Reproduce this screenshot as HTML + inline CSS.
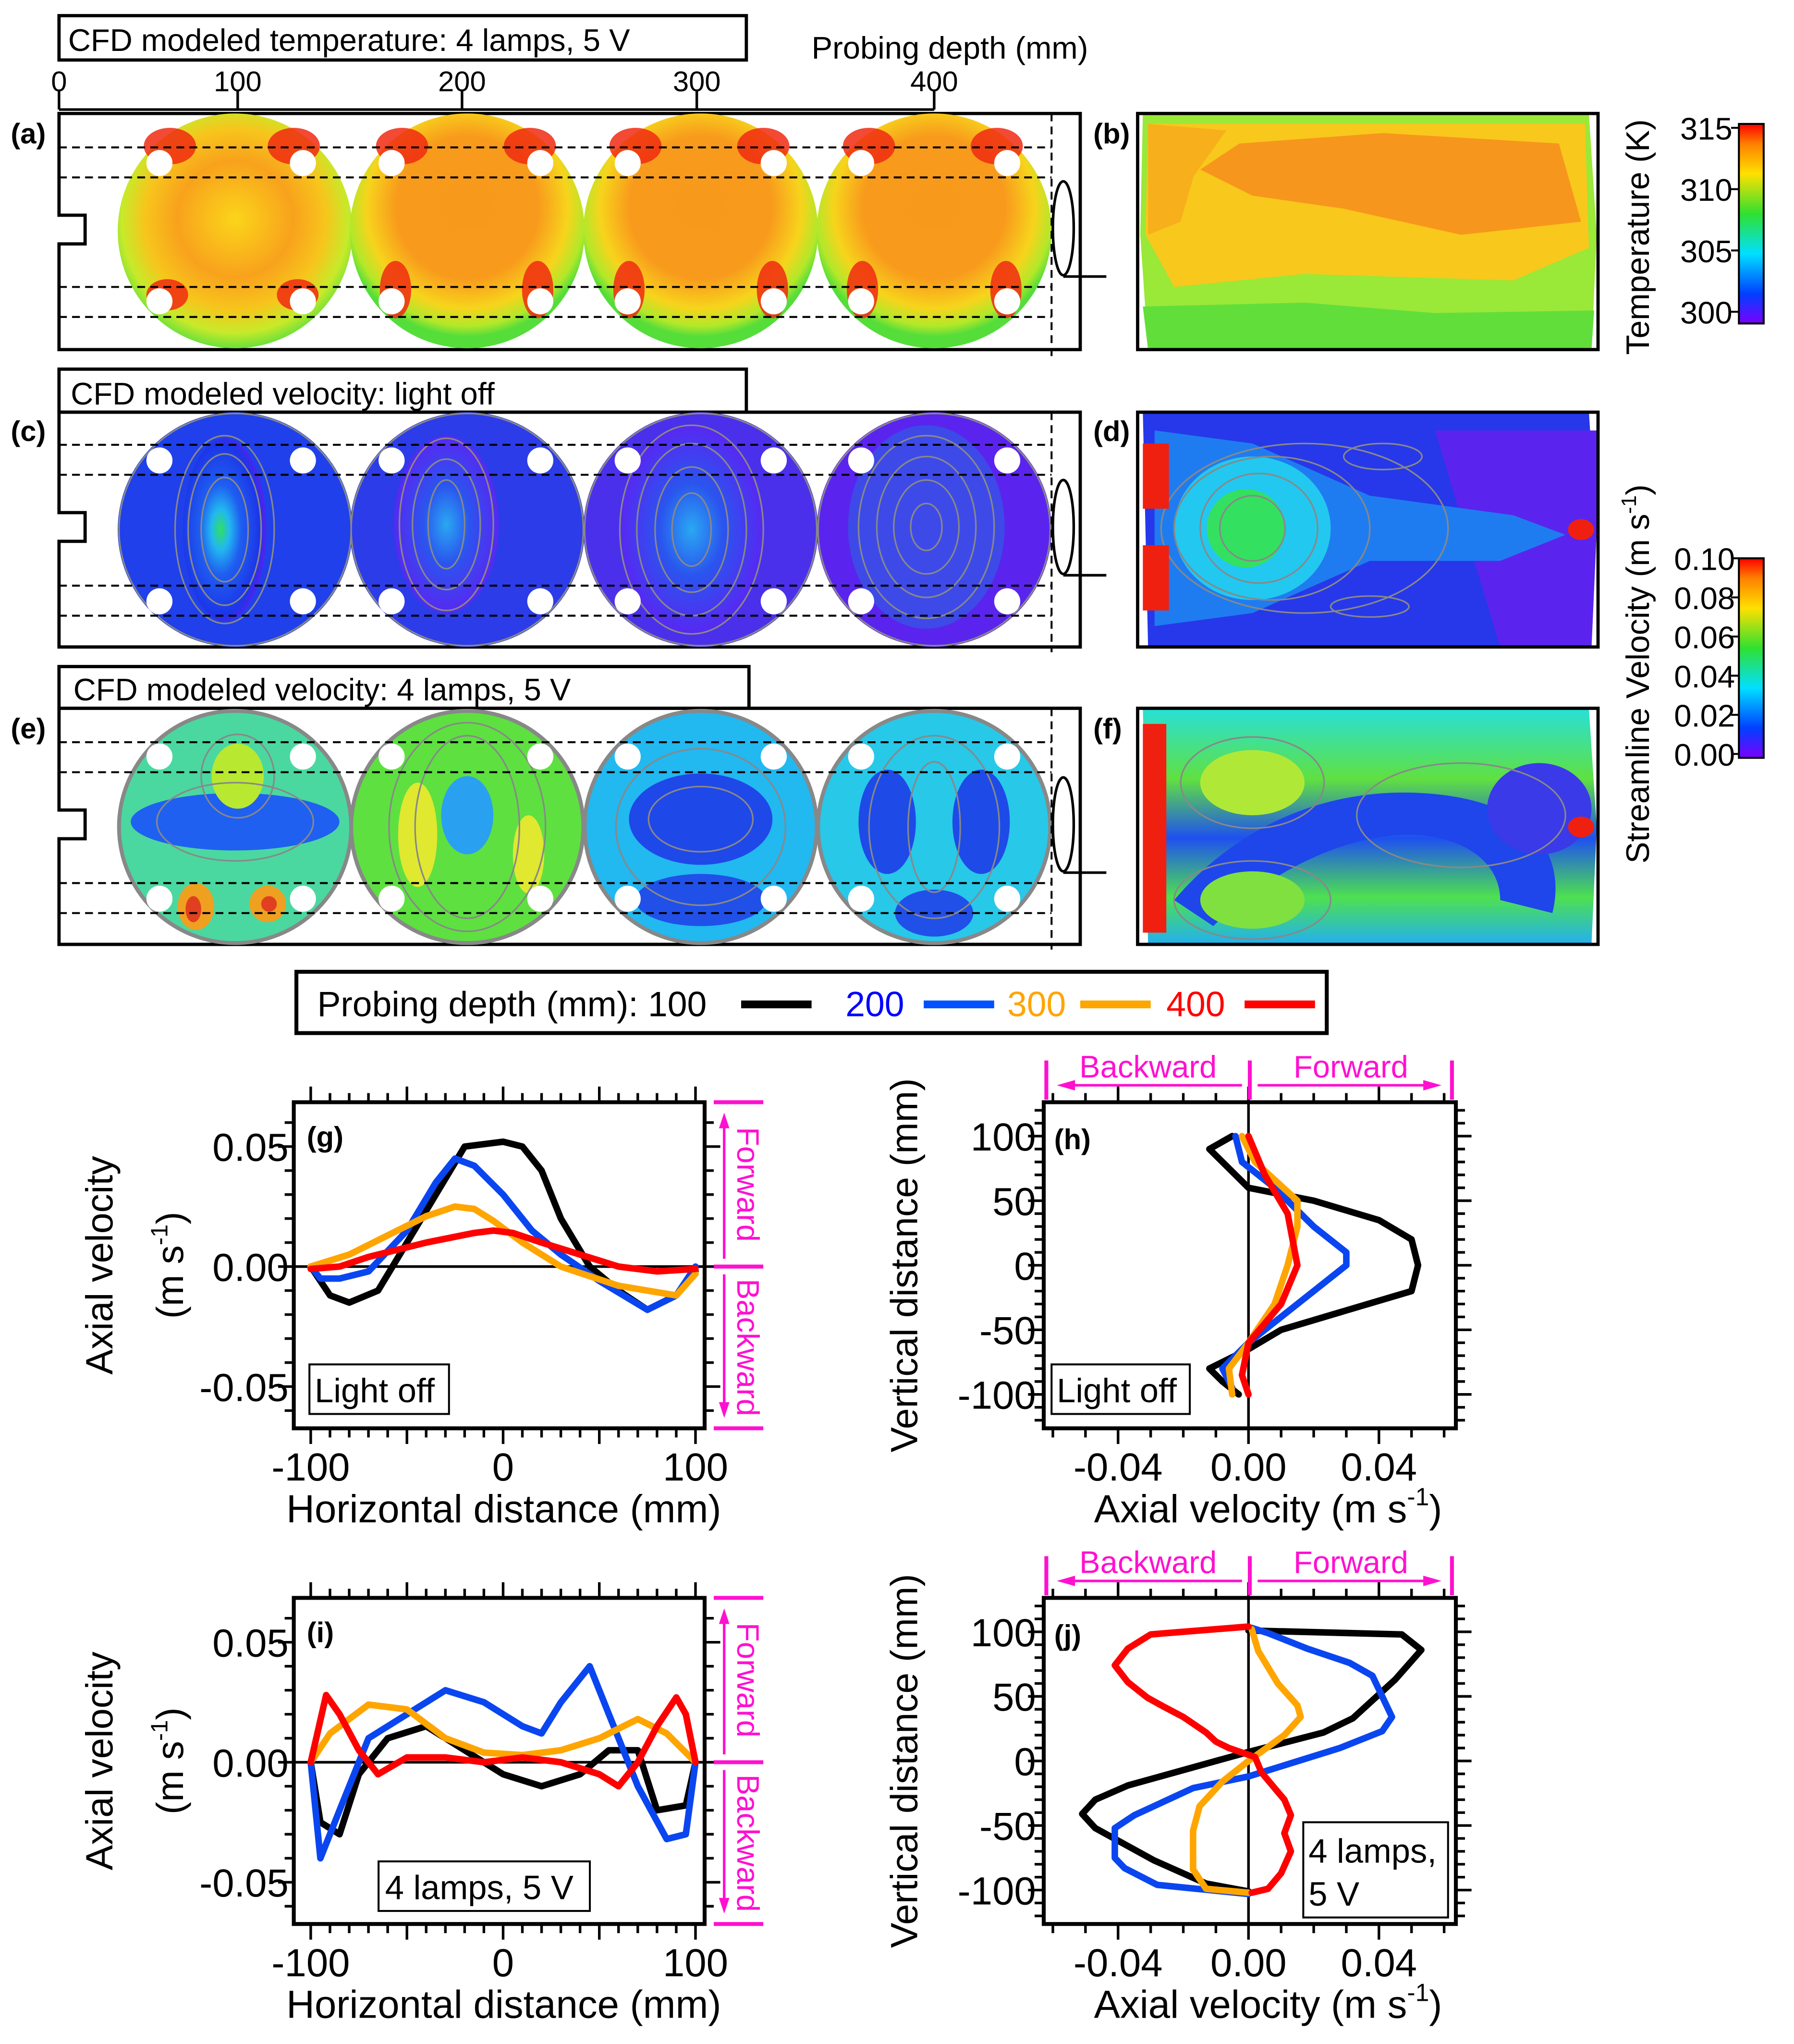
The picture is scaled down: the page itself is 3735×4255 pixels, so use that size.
<!DOCTYPE html>
<html><head><meta charset="utf-8"><style>
html,body{margin:0;padding:0;background:#fff;}
svg{display:block;font-family:"Liberation Sans",Arial,sans-serif;}
text{font-family:"Liberation Sans",Arial,sans-serif;fill:#000;}
text.nar{font-family:"Liberation Sans Narrow","Liberation Sans",Arial,sans-serif;}
</style></head><body>
<svg id="fig" width="3735" height="4255" viewBox="0 0 1375 1567" font-family="Liberation Sans, sans-serif" xmlns="http://www.w3.org/2000/svg">
<defs>
<linearGradient id="tempbar" x1="0" y1="1" x2="0" y2="0">
<stop offset="0" stop-color="#7a00ff"/><stop offset="0.15" stop-color="#0040ff"/><stop offset="0.35" stop-color="#00e0ff"/><stop offset="0.55" stop-color="#30e030"/><stop offset="0.75" stop-color="#ffe000"/><stop offset="0.9" stop-color="#ff8000"/><stop offset="1" stop-color="#ff0000"/>
</linearGradient>
<radialGradient id="tcirc" cx="0.5" cy="0.45" r="0.55">
<stop offset="0" stop-color="#fbd51a"/><stop offset="0.45" stop-color="#f8a21c"/><stop offset="0.7" stop-color="#f7c51c"/><stop offset="0.88" stop-color="#c7ea2a"/><stop offset="1" stop-color="#6be03a"/>
</radialGradient>
<radialGradient id="tcirc2" cx="0.5" cy="0.4" r="0.55">
<stop offset="0" stop-color="#f79a1c"/><stop offset="0.55" stop-color="#f89a1c"/><stop offset="0.78" stop-color="#f7d41c"/><stop offset="0.92" stop-color="#b2e82a"/><stop offset="1" stop-color="#55dd3a"/>
</radialGradient>
<radialGradient id="vc1" cx="0.45" cy="0.5" r="0.55">
<stop offset="0" stop-color="#2ee060"/><stop offset="0.2" stop-color="#22b8f0"/><stop offset="0.45" stop-color="#1f5ef0"/><stop offset="0.85" stop-color="#1c36e8"/><stop offset="1" stop-color="#5a1ff0"/>
</radialGradient>
<radialGradient id="vc2" cx="0.5" cy="0.5" r="0.55">
<stop offset="0" stop-color="#2aa8f2"/><stop offset="0.4" stop-color="#2a55ee"/><stop offset="1" stop-color="#6020f2"/>
</radialGradient>
<linearGradient id="fgrad" x1="0" y1="0" x2="0" y2="1">
<stop offset="0" stop-color="#28e0d8"/><stop offset="0.3" stop-color="#60e040"/><stop offset="0.55" stop-color="#1e50f0"/><stop offset="0.8" stop-color="#4ee050"/><stop offset="1" stop-color="#22b0f0"/>
</linearGradient>
</defs>

<!-- ===== (a) ===== -->
<g>
<rect x="45" y="12" width="527" height="34" fill="#fff" stroke="#000" stroke-width="2.5"/>
<text x="52" y="39" font-size="24" class="nar">CFD modeled temperature: 4 lamps, 5 V</text>
<text x="622" y="45" font-size="24" class="nar">Probing depth (mm)</text>
<line x1="45" y1="84" x2="716" y2="84" stroke="#000" stroke-width="2"/>
<g stroke="#000" stroke-width="2">
<line x1="45" y1="70" x2="45" y2="84"/><line x1="182" y1="70" x2="182" y2="84"/><line x1="354" y1="70" x2="354" y2="84"/><line x1="534" y1="70" x2="534" y2="84"/><line x1="716" y1="70" x2="716" y2="84"/>
</g>
<g font-size="22" text-anchor="middle">
<text class="nar" x="45" y="70">0</text><text class="nar" x="182" y="70">100</text><text class="nar" x="354" y="70">200</text><text class="nar" x="534" y="70">300</text><text class="nar" x="716" y="70">400</text>
</g>
<text x="8" y="110" font-size="22" font-weight="bold">(a)</text>
<path d="M45,87 H828 V268 H45 V187 H65 V165 H45 Z" fill="#fff" stroke="#000" stroke-width="2.5"/>
<g>
<circle cx="180" cy="177" r="90" fill="url(#tcirc)"/>
<circle cx="358" cy="177" r="90" fill="url(#tcirc2)"/>
<circle cx="537" cy="177" r="90" fill="url(#tcirc2)"/>
<circle cx="716" cy="177" r="90" fill="url(#tcirc2)"/>
</g>
<g fill="#f02a10" opacity="0.85">
<ellipse cx="130" cy="112" rx="20" ry="14"/><ellipse cx="225" cy="112" rx="20" ry="14"/><ellipse cx="128" cy="226" rx="16" ry="12"/><ellipse cx="228" cy="226" rx="16" ry="12"/>
<ellipse cx="308" cy="112" rx="20" ry="14"/><ellipse cx="406" cy="112" rx="20" ry="14"/><ellipse cx="303" cy="222" rx="12" ry="22"/><ellipse cx="412" cy="222" rx="12" ry="22"/>
<ellipse cx="487" cy="112" rx="20" ry="14"/><ellipse cx="585" cy="112" rx="20" ry="14"/><ellipse cx="482" cy="222" rx="12" ry="22"/><ellipse cx="592" cy="222" rx="12" ry="22"/>
<ellipse cx="666" cy="112" rx="20" ry="14"/><ellipse cx="764" cy="112" rx="20" ry="14"/><ellipse cx="661" cy="222" rx="12" ry="22"/><ellipse cx="771" cy="222" rx="12" ry="22"/>
</g>
<g fill="#fff">
<circle cx="122" cy="125" r="10"/><circle cx="232" cy="125" r="10"/><circle cx="122" cy="231" r="10"/><circle cx="232" cy="231" r="10"/>
<circle cx="300" cy="125" r="10"/><circle cx="414" cy="125" r="10"/><circle cx="300" cy="231" r="10"/><circle cx="414" cy="231" r="10"/>
<circle cx="481" cy="125" r="10"/><circle cx="593" cy="125" r="10"/><circle cx="481" cy="231" r="10"/><circle cx="593" cy="231" r="10"/>
<circle cx="660" cy="125" r="10"/><circle cx="772" cy="125" r="10"/><circle cx="660" cy="231" r="10"/><circle cx="772" cy="231" r="10"/>
</g>
<g stroke="#000" stroke-width="1.5" stroke-dasharray="6,4">
<line x1="45" y1="113" x2="806" y2="113"/><line x1="45" y1="136" x2="806" y2="136"/><line x1="45" y1="220" x2="806" y2="220"/><line x1="45" y1="243" x2="806" y2="243"/><line x1="806" y1="87" x2="806" y2="275"/>
</g>
<ellipse cx="815" cy="175" rx="8" ry="36" fill="none" stroke="#000" stroke-width="2"/>
<line x1="815" y1="212" x2="848" y2="212" stroke="#000" stroke-width="2"/>
</g>

<!-- ===== (b) ===== -->
<g>
<text x="838" y="110" font-size="22" font-weight="bold">(b)</text>
<path d="M876,87 H1218 L1224,180 L1220,268 H880 L874,180 Z" fill="#9ae838"/>
<path d="M880,95 H1215 L1218,190 L1160,215 L1000,210 L900,220 L878,180 Z" fill="#f8c81c"/>
<path d="M950,110 L1060,102 L1195,110 L1212,170 L1120,180 L1030,160 L960,150 L920,130 Z" fill="#f7961c"/>
<path d="M880,95 L940,100 L915,135 L905,170 L880,180 Z" fill="#f7b01c"/>
<path d="M876,235 L1000,232 L1100,240 L1222,238 L1220,268 H880 Z" fill="#62de3a"/>
<rect x="872" y="87" width="353" height="181" fill="none" stroke="#000" stroke-width="2.5"/>
</g>

<!-- temperature colorbar -->
<g>
<rect x="1333" y="95" width="19" height="153" fill="url(#tempbar)" stroke="#000" stroke-width="1.5"/>
<g stroke="#000" stroke-width="1.5"><line x1="1327" y1="98" x2="1333" y2="98"/><line x1="1327" y1="145" x2="1333" y2="145"/><line x1="1327" y1="192" x2="1333" y2="192"/><line x1="1327" y1="239" x2="1333" y2="239"/></g>
<g font-size="24" text-anchor="end">
<text class="nar" x="1328" y="107">315</text><text class="nar" x="1328" y="154">310</text><text class="nar" x="1328" y="201">305</text><text class="nar" x="1328" y="248">300</text>
</g>
<text transform="translate(1264,272) rotate(-90)" font-size="25">Temperature (K)</text>
</g>

<!-- ===== (c) ===== -->
<g>
<rect x="45" y="283" width="527" height="33" fill="#fff" stroke="#000" stroke-width="2.5"/>
<text x="54" y="310" font-size="24" class="nar">CFD modeled velocity: light off</text>
<text x="8" y="338" font-size="22" font-weight="bold">(c)</text>
<path d="M45,316 H828 V496 H45 V415 H65 V393 H45 Z" fill="#fff" stroke="#000" stroke-width="2.5"/>
<g>
<circle cx="180" cy="406" r="90" fill="#1f40ea"/><ellipse cx="172" cy="406" rx="32" ry="70" fill="url(#vc1)"/>
<circle cx="358" cy="406" r="90" fill="#2c3ce8"/><ellipse cx="342" cy="402" rx="40" ry="68" fill="url(#vc2)"/>
<circle cx="537" cy="406" r="90" fill="#4a30ea"/><ellipse cx="530" cy="406" rx="55" ry="80" fill="url(#vc2)"/>
<circle cx="716" cy="406" r="90" fill="#5a24ee"/><ellipse cx="710" cy="404" rx="60" ry="78" fill="#3d4ae8"/>
</g>
<g fill="none" stroke="#888" stroke-width="1.2">
<ellipse cx="172" cy="406" rx="18" ry="40"/><ellipse cx="172" cy="406" rx="28" ry="58"/><ellipse cx="172" cy="406" rx="38" ry="72"/>
<ellipse cx="342" cy="402" rx="14" ry="34"/><ellipse cx="342" cy="402" rx="26" ry="50"/><ellipse cx="342" cy="402" rx="36" ry="66"/>
<ellipse cx="530" cy="406" rx="15" ry="28"/><ellipse cx="530" cy="406" rx="28" ry="48"/><ellipse cx="530" cy="406" rx="42" ry="66"/><ellipse cx="530" cy="406" rx="55" ry="80"/>
<ellipse cx="710" cy="404" rx="12" ry="18"/><ellipse cx="710" cy="404" rx="25" ry="36"/><ellipse cx="710" cy="404" rx="38" ry="54"/><ellipse cx="710" cy="404" rx="52" ry="70"/>
<circle cx="180" cy="406" r="89"/><circle cx="358" cy="406" r="89"/><circle cx="537" cy="406" r="89"/><circle cx="716" cy="406" r="89"/>
</g>
<g fill="#fff">
<circle cx="122" cy="353" r="10"/><circle cx="232" cy="353" r="10"/><circle cx="122" cy="461" r="10"/><circle cx="232" cy="461" r="10"/>
<circle cx="300" cy="353" r="10"/><circle cx="414" cy="353" r="10"/><circle cx="300" cy="461" r="10"/><circle cx="414" cy="461" r="10"/>
<circle cx="481" cy="353" r="10"/><circle cx="593" cy="353" r="10"/><circle cx="481" cy="461" r="10"/><circle cx="593" cy="461" r="10"/>
<circle cx="660" cy="353" r="10"/><circle cx="772" cy="353" r="10"/><circle cx="660" cy="461" r="10"/><circle cx="772" cy="461" r="10"/>
</g>
<g stroke="#000" stroke-width="1.5" stroke-dasharray="6,4">
<line x1="45" y1="341" x2="806" y2="341"/><line x1="45" y1="364" x2="806" y2="364"/><line x1="45" y1="449" x2="806" y2="449"/><line x1="45" y1="472" x2="806" y2="472"/><line x1="806" y1="316" x2="806" y2="500"/>
</g>
<ellipse cx="815" cy="404" rx="8" ry="36" fill="none" stroke="#000" stroke-width="2"/>
<line x1="815" y1="441" x2="848" y2="441" stroke="#000" stroke-width="2"/>
</g>

<!-- ===== (d) ===== -->
<g>
<text x="838" y="338" font-size="22" font-weight="bold">(d)</text>
<path d="M876,316 H1218 L1224,406 L1220,496 H880 Z" fill="#2638ea"/>
<path d="M1100,330 L1225,330 L1224,406 L1220,496 H1150 Z" fill="#5a24ee"/>
<path d="M885,330 L960,340 L1050,380 L1160,395 L1200,410 L1150,430 L1050,430 L960,470 L885,480 Z" fill="#1f7cf0"/>
<ellipse cx="960" cy="405" rx="60" ry="55" fill="#22c8f0"/>
<ellipse cx="955" cy="405" rx="30" ry="30" fill="#34e060"/>
<g fill="none" stroke="#888" stroke-width="1.2">
<ellipse cx="960" cy="405" rx="25" ry="25"/><ellipse cx="965" cy="405" rx="45" ry="42"/><ellipse cx="975" cy="405" rx="75" ry="55"/><ellipse cx="1000" cy="405" rx="110" ry="65"/>
<ellipse cx="1060" cy="350" rx="30" ry="10"/><ellipse cx="1050" cy="465" rx="30" ry="8"/>
</g>
<rect x="876" y="340" width="20" height="50" fill="#f02010"/><rect x="876" y="418" width="20" height="50" fill="#f02010"/>
<ellipse cx="1212" cy="406" rx="10" ry="8" fill="#f02010"/>
<rect x="872" y="316" width="353" height="180" fill="none" stroke="#000" stroke-width="2.5"/>
</g>

<!-- ===== (e) ===== -->
<g>
<rect x="45" y="511" width="529" height="32" fill="#fff" stroke="#000" stroke-width="2.5"/>
<text x="56" y="537" font-size="24" class="nar">CFD modeled velocity: 4 lamps, 5 V</text>
<text x="8" y="566" font-size="22" font-weight="bold">(e)</text>
<path d="M45,543 H828 V724 H45 V643 H65 V621 H45 Z" fill="#fff" stroke="#000" stroke-width="2.5"/>
<g stroke="#888" stroke-width="3">
<circle cx="180" cy="634" r="89" fill="#4ad8a0"/>
<circle cx="358" cy="634" r="89" fill="#5ee040"/>
<circle cx="537" cy="634" r="89" fill="#22b8f0"/>
<circle cx="716" cy="634" r="89" fill="#28c8e8"/>
</g>
<g>
<ellipse cx="180" cy="630" rx="80" ry="22" fill="#1f60f0"/><ellipse cx="182" cy="595" rx="20" ry="25" fill="#b8e830"/>
<ellipse cx="150" cy="695" rx="14" ry="18" fill="#f0a020"/><ellipse cx="205" cy="693" rx="14" ry="14" fill="#f0a020"/>
<ellipse cx="148" cy="697" rx="6" ry="10" fill="#e04020"/><ellipse cx="206" cy="693" rx="6" ry="6" fill="#e04020"/>
<ellipse cx="320" cy="640" rx="15" ry="40" fill="#e0e830"/><ellipse cx="405" cy="655" rx="12" ry="30" fill="#e0e830"/><ellipse cx="358" cy="625" rx="20" ry="30" fill="#2aa0f0"/>
<ellipse cx="537" cy="628" rx="55" ry="35" fill="#1f48e8"/><ellipse cx="537" cy="690" rx="50" ry="20" fill="#2050e8"/>
<ellipse cx="680" cy="630" rx="22" ry="40" fill="#1e4ae8"/><ellipse cx="752" cy="630" rx="22" ry="40" fill="#1e4ae8"/><ellipse cx="716" cy="700" rx="30" ry="18" fill="#2050e8"/>
</g>
<g fill="none" stroke="#888" stroke-width="1.2">
<ellipse cx="180" cy="630" rx="60" ry="30"/><ellipse cx="182" cy="595" rx="28" ry="32"/><ellipse cx="358" cy="634" rx="40" ry="70"/><ellipse cx="358" cy="634" rx="60" ry="80"/>
<ellipse cx="537" cy="628" rx="40" ry="25"/><ellipse cx="537" cy="634" rx="65" ry="60"/><ellipse cx="716" cy="634" rx="50" ry="70"/><ellipse cx="716" cy="634" rx="20" ry="50"/>
</g>
<g fill="#fff">
<circle cx="122" cy="580" r="10"/><circle cx="232" cy="580" r="10"/><circle cx="122" cy="689" r="10"/><circle cx="232" cy="689" r="10"/>
<circle cx="300" cy="580" r="10"/><circle cx="414" cy="580" r="10"/><circle cx="300" cy="689" r="10"/><circle cx="414" cy="689" r="10"/>
<circle cx="481" cy="580" r="10"/><circle cx="593" cy="580" r="10"/><circle cx="481" cy="689" r="10"/><circle cx="593" cy="689" r="10"/>
<circle cx="660" cy="580" r="10"/><circle cx="772" cy="580" r="10"/><circle cx="660" cy="689" r="10"/><circle cx="772" cy="689" r="10"/>
</g>
<g stroke="#000" stroke-width="1.5" stroke-dasharray="6,4">
<line x1="45" y1="569" x2="806" y2="569"/><line x1="45" y1="592" x2="806" y2="592"/><line x1="45" y1="677" x2="806" y2="677"/><line x1="45" y1="700" x2="806" y2="700"/><line x1="806" y1="543" x2="806" y2="728"/>
</g>
<ellipse cx="815" cy="632" rx="8" ry="36" fill="none" stroke="#000" stroke-width="2"/>
<line x1="815" y1="669" x2="848" y2="669" stroke="#000" stroke-width="2"/>
</g>

<!-- ===== (f) ===== -->
<g>
<text x="838" y="566" font-size="22" font-weight="bold">(f)</text>
<path d="M876,543 H1218 L1224,634 L1220,724 H880 Z" fill="url(#fgrad)"/>
<path d="M900,690 C960,620 1040,600 1110,610 C1180,620 1200,660 1190,700 L1150,690 C1150,660 1120,640 1080,640 C1020,640 960,680 930,710 Z" fill="#1e46ea"/>
<ellipse cx="1180" cy="620" rx="40" ry="35" fill="#3a3ae8"/>
<ellipse cx="960" cy="600" rx="40" ry="25" fill="#b0e838"/><ellipse cx="960" cy="690" rx="40" ry="22" fill="#80e040"/>
<rect x="876" y="555" width="18" height="160" fill="#f02010"/>
<ellipse cx="1212" cy="634" rx="10" ry="8" fill="#f02010"/>
<g fill="none" stroke="#888" stroke-width="1.2">
<ellipse cx="960" cy="600" rx="55" ry="35"/><ellipse cx="960" cy="690" rx="60" ry="30"/><ellipse cx="1120" cy="625" rx="80" ry="40"/>
</g>
<rect x="872" y="543" width="353" height="181" fill="none" stroke="#000" stroke-width="2.5"/>
</g>

<!-- velocity colorbar -->
<g>
<rect x="1333" y="428" width="19" height="153" fill="url(#tempbar)" stroke="#000" stroke-width="1.5"/>
<g font-size="24" text-anchor="end">
<text class="nar" x="1330" y="437">0.10</text><text class="nar" x="1330" y="467">0.08</text><text class="nar" x="1330" y="497">0.06</text><text class="nar" x="1330" y="527">0.04</text><text class="nar" x="1330" y="557">0.02</text><text class="nar" x="1330" y="587">0.00</text>
</g>
<g stroke="#000" stroke-width="1.5"><line x1="1327" y1="428" x2="1333" y2="428"/><line x1="1327" y1="458" x2="1333" y2="458"/><line x1="1327" y1="488" x2="1333" y2="488"/><line x1="1327" y1="518" x2="1333" y2="518"/><line x1="1327" y1="548" x2="1333" y2="548"/><line x1="1327" y1="578" x2="1333" y2="578"/></g>
<text transform="translate(1264,662) rotate(-90)" font-size="25">Streamline Velocity (m s<tspan dy="-10" font-size="16">-1</tspan><tspan dy="10">)</tspan></text>
</g>

<!-- legend -->
<g>
<rect x="227" y="745" width="790" height="47" fill="#fff" stroke="#000" stroke-width="3"/>
<text x="243" y="779" font-size="27" class="nar">Probing depth (mm): 100</text>
<line x1="568" y1="770" x2="622" y2="770" stroke="#000" stroke-width="6"/>
<text x="648" y="779" font-size="27" class="nar" style="fill:#0000ff">200</text>
<line x1="708" y1="770" x2="762" y2="770" stroke="#0050ff" stroke-width="6"/>
<text x="772" y="779" font-size="27" class="nar" style="fill:#ffa500">300</text>
<line x1="828" y1="770" x2="882" y2="770" stroke="#ffa500" stroke-width="6"/>
<text x="894" y="779" font-size="27" class="nar" style="fill:#ff0000">400</text>
<line x1="954" y1="770" x2="1008" y2="770" stroke="#ff0000" stroke-width="6"/>
</g>

<g id="charts"></g>
</svg>
<script>
// ---- data (velocity in m/s, distances in mm) ----
const gX = [-100,-90,-80,-65,-50,-35,-20,0,10,20,30,45,60,75,90,100];
const gBlack = [0,-0.012,-0.015,-0.01,0.01,0.03,0.05,0.052,0.05,0.04,0.02,0.0,-0.01,-0.018,-0.012,-0.002];
const gBlueX = [-100,-95,-85,-70,-50,-35,-25,-15,0,15,30,50,75,90,100];
const gBlue = [0,-0.005,-0.005,-0.002,0.015,0.035,0.045,0.042,0.03,0.015,0.005,-0.006,-0.018,-0.012,0];
const gOrangeX = [-100,-80,-60,-40,-25,-15,-5,10,30,60,90,100];
const gOrange = [0,0.005,0.013,0.021,0.025,0.024,0.019,0.01,0.0,-0.008,-0.012,-0.003];
const gRedX = [-100,-85,-70,-40,-15,-5,5,20,40,60,80,100];
const gRed = [-0.001,0.0,0.004,0.01,0.014,0.015,0.014,0.01,0.005,0.0,-0.002,-0.001];

const hY = [100,90,80,60,50,35,20,0,-20,-35,-50,-65,-80,-90,-100];
const hBlack = [-0.005,-0.012,-0.008,0.0,0.02,0.04,0.05,0.052,0.05,0.03,0.01,0.0,-0.012,-0.008,-0.003];
const hBlueY = [100,80,60,30,10,0,-20,-40,-60,-80,-95];
const hBlue = [-0.004,-0.002,0.008,0.02,0.03,0.03,0.02,0.01,0.0,-0.008,-0.005];
const hOrangeY = [100,80,50,30,0,-30,-60,-80,-100];
const hOrange = [-0.002,0.002,0.015,0.015,0.012,0.008,0.0,-0.006,-0.005];
const hRedY = [100,70,40,0,-30,-60,-85,-100];
const hRed = [0.0,0.005,0.012,0.015,0.01,0.0,-0.002,0.0];

const iX = [-100,-95,-85,-75,-60,-40,-20,0,20,40,55,70,80,95,100];
const iBlack = [0,-0.025,-0.03,-0.005,0.01,0.015,0.005,-0.005,-0.01,-0.005,0.005,0.005,-0.02,-0.018,0];
const iBlueX = [-100,-95,-85,-70,-50,-30,-10,10,20,30,45,55,70,85,95,100];
const iBlue = [0,-0.04,-0.02,0.01,0.02,0.03,0.025,0.015,0.012,0.025,0.04,0.02,-0.01,-0.032,-0.03,0];
const iOrangeX = [-100,-90,-70,-50,-30,-10,10,30,50,70,85,100];
const iOrange = [0,0.012,0.024,0.022,0.01,0.004,0.003,0.005,0.01,0.018,0.012,0];
const iRedX = [-100,-92,-85,-75,-65,-50,-30,-10,10,30,50,60,70,80,90,95,100];
const iRed = [0,0.028,0.02,0.005,-0.005,0.002,0.002,0.0,0.002,0.0,-0.005,-0.01,0.0,0.015,0.027,0.02,0];

const jBlackV = [0,0.047,0.053,0.045,0.032,0.023,0,-0.037,-0.047,-0.051,-0.047,-0.029,-0.013,0];
const jBlackY = [101,98,86,63,33,22,7,-19,-30,-41,-52,-77,-95,-101];
const jBlueV = [0.001,0.006,0.018,0.031,0.038,0.044,0.041,0.028,0,-0.017,-0.035,-0.041,-0.041,-0.038,-0.028,0];
const jBlueY = [103,99,87,76,66,34,23,10,-12,-21,-42,-52,-75,-83,-96,-103];
const jOrangeV = [0.001,0.003,0.009,0.015,0.016,0.011,0,-0.008,-0.015,-0.017,-0.017,-0.013,0];
const jOrangeY = [102,85,60,43,34,20,0,-16,-35,-54,-84,-99,-102];
const jRedV = [0,-0.030,-0.037,-0.041,-0.037,-0.031,-0.026,-0.020,-0.013,-0.010,-0.006,0.002,0.004,0.007,0.011,0.013,0.011,0.013,0.010,0.006,0.001];
const jRedY = [104,98,87,74,61,49,42,34,22,15,10,3,-9,-18,-30,-42,-56,-70,-87,-99,-102];

const xTicksG = [-100,0,100];
const yTicksG = [0.05,0.00,-0.05];
const yTickLabelsG = ["0.05","0.00","-0.05"];
const xTicksH = [-0.04,0.00,0.04];
const xTickLabelsH = ["-0.04","0.00","0.04"];
const yTicksH = [100,50,0,-50,-100];

const COLORS = ["#000000","#0a46f0","#ffa500","#ff0000"];
const NS = "http://www.w3.org/2000/svg";
const root = document.getElementById('charts');

function mk(tag, attrs, parent){
  const e = document.createElementNS(NS, tag);
  for (const k in attrs) e.setAttribute(k, attrs[k]);
  (parent||root).appendChild(e);
  return e;
}
function txt(x,y,s,size,anchor,parent,cls){
  const t = mk('text',{x:x,y:y,'font-size':size,'text-anchor':anchor||'start'},parent);
  if(cls) t.setAttribute('class',cls);
  t.textContent = s; return t;
}

function linScale(d0,d1,r0,r1){ return v => r0 + (v-d0)/(d1-d0)*(r1-r0); }

function magentaH(g, x0, x1, T, labelB, labelF, xm){
  const M = "#ff10d0";
  const mg = mk('g',{},g);
  
  
  const yA=T-13;
  [x0,xm,x1].forEach(x=>mk('line',{x1:x,y1:T-32,x2:x,y2:T-2,stroke:M,'stroke-width':3},mg));
  mk('line',{x1:x0+14,y1:yA,x2:xm-6,y2:yA,stroke:M,'stroke-width':2},mg);
  mk('path',{d:`M${x0+8},${yA} l14,-4 v8 z`,fill:M},mg);
  mk('line',{x1:xm+6,y1:yA,x2:x1-14,y2:yA,stroke:M,'stroke-width':2},mg);
  mk('path',{d:`M${x1-8},${yA} l-14,-4 v8 z`,fill:M},mg);
  const a = txt((x0+xm)/2, T-19, labelB, 24, 'middle', mg); a.setAttribute('style','fill:'+M);
  const b = txt((xm+x1)/2, T-19, labelF, 24, 'middle', mg); b.setAttribute('style','fill:'+M);
}
function magentaV(g, x, y0, y1, ym){
  const M = "#ff10d0";
  const mg = mk('g',{},g);
  
  
  [y0,ym,y1].forEach(y=>mk('line',{x1:x-8,y1:y,x2:x+30,y2:y,stroke:M,'stroke-width':3},mg));
  mk('line',{x1:x,y1:y0+16,x2:x,y2:ym-6,stroke:M,'stroke-width':2},mg);
  mk('path',{d:`M${x},${y0+8} l-4,12 h8 z`,fill:M},mg);
  mk('line',{x1:x,y1:ym+6,x2:x,y2:y1-16,stroke:M,'stroke-width':2},mg);
  mk('path',{d:`M${x},${y1-8} l-4,-12 h8 z`,fill:M},mg);
  const a = mk('text',{transform:`translate(${x+10},${(y0+ym)/2}) rotate(90)`,'font-size':24,'text-anchor':'middle'},mg);
  a.textContent='Forward'; a.setAttribute('style','fill:'+M);
  const b = mk('text',{transform:`translate(${x+10},${(ym+y1)/2}) rotate(90)`,'font-size':24,'text-anchor':'middle'},mg);
  b.textContent='Backward'; b.setAttribute('style','fill:'+M);
}

function series(g, sx, sy, xs, ys, color, name){
  const d = xs.map((v,i)=>(i?'L':'M')+sx(v).toFixed(1)+','+sy(ys[i]).toFixed(1)).join(' ');
  const p = mk('path',{d:d,fill:'none',stroke:color,'stroke-width':5,'stroke-linejoin':'round','stroke-linecap':'round'},g);
  
  
}

function plotHoriz(cfg){
  const L=225,R=540,T=cfg.top,B=cfg.top+250;
  const g = mk('g',{});
  
  
  const sx = linScale(-100,100,238,533);
  const sy = linScale(0,0.05,T+126,T+34);
  for(let v=-100; v<=100; v+=10){
    const major = v%50===0;
    mk('line',{x1:sx(v),y1:T,x2:sx(v),y2:T-(major?12:7),stroke:'#000','stroke-width':2},g);
    mk('line',{x1:sx(v),y1:B,x2:sx(v),y2:B+(major?12:7),stroke:'#000','stroke-width':2},g);
  }
  for(let k=-6;k<=6;k++){
    const v=k*0.01, y=sy(v); if(y<T||y>B) continue;
    const major = k%5===0;
    mk('line',{x1:L,y1:y,x2:L-(major?12:7),y2:y,stroke:'#000','stroke-width':2},g);
    mk('line',{x1:R,y1:y,x2:R+(major?12:7),y2:y,stroke:'#000','stroke-width':2},g);
  }
  xTicksG.forEach(v=>txt(sx(v),B+40,String(v),30,'middle',g,'nar'));
  yTicksG.forEach((v,i)=>txt(L-4,sy(v)+11,yTickLabelsG[i],30,'end',g,'nar'));
  mk('line',{x1:L,y1:sy(0),x2:R,y2:sy(0),stroke:'#000','stroke-width':2},g);
  cfg.series.forEach(s=>series(g,sx,sy,s[0],s[1],s[2],s[3]));
  mk('rect',{x:L,y:T,width:R-L,height:B-T,fill:'none',stroke:'#000','stroke-width':3},g);
  const lb = txt(L+10,T+34,cfg.label,22,'start',g); lb.setAttribute('font-weight','bold');
  mk('rect',cfg.boxRect,g);
  txt(cfg.boxText[0],cfg.boxText[1],cfg.boxText[2],26,'start',g,'nar');
  txt(386,B+72,'Horizontal distance (mm)',30,'middle',g);
  const yt = mk('text',{transform:`translate(86,${T+125}) rotate(-90)`,'font-size':29,'text-anchor':'middle'},g);
  yt.textContent='Axial velocity';
  const yu = mk('text',{transform:`translate(140,${T+125}) rotate(-90)`,'font-size':29,'text-anchor':'middle'},g);
  yu.innerHTML='(m s<tspan dy="-12" font-size="18">-1</tspan><tspan dy="12">)</tspan>';
  magentaV(g, 555, T, B, T+126);
}

function plotVert(cfg){
  const L=800,R=1116,T=cfg.top,B=cfg.top+250;
  const g = mk('g',{});
  
  
  const sx = linScale(0,0.04,957,1057);
  const sy = linScale(0,100,T+125,T+26);
  for(let k=-6;k<=6;k++){
    const x=sx(k*0.01), major=k%4===0;
    mk('line',{x1:x,y1:T,x2:x,y2:T-(major?12:7),stroke:'#000','stroke-width':2},g);
    mk('line',{x1:x,y1:B,x2:x,y2:B+(major?12:7),stroke:'#000','stroke-width':2},g);
  }
  for(let v=-120; v<=120; v+=10){
    const y=sy(v); if(y<T+2||y>B-2) continue;
    const major=v%50===0;
    mk('line',{x1:L,y1:y,x2:L-(major?12:7),y2:y,stroke:'#000','stroke-width':2},g);
    mk('line',{x1:R,y1:y,x2:R+(major?12:7),y2:y,stroke:'#000','stroke-width':2},g);
  }
  xTicksH.forEach((v,i)=>txt(sx(v),B+40,xTickLabelsH[i],30,'middle',g,'nar'));
  yTicksH.forEach(v=>txt(L-6,sy(v)+11,String(v),30,'end',g,'nar'));
  mk('line',{x1:sx(0),y1:T,x2:sx(0),y2:B,stroke:'#000','stroke-width':2},g);
  cfg.series.forEach(s=>series(g,sx,sy,s[0],s[1],s[2],s[3]));
  mk('rect',{x:L,y:T,width:R-L,height:B-T,fill:'none',stroke:'#000','stroke-width':3},g);
  const lb = txt(L+8,T+36,cfg.label,22,'start',g); lb.setAttribute('font-weight','bold');
  mk('rect',cfg.boxRect,g);
  cfg.boxText.forEach(t=>txt(t[0],t[1],t[2],26,'start',g,'nar'));
  const xt = txt(972,B+72,'',30,'middle',g);
  xt.innerHTML='Axial velocity (m s<tspan dy="-13" font-size="19">-1</tspan><tspan dy="13">)</tspan>';
  const yt = mk('text',{transform:`translate(703,${T+125}) rotate(-90)`,'font-size':29,'text-anchor':'middle'},g);
  yt.textContent='Vertical distance (mm)';
  magentaH(g, 802, 1113, T, 'Backward', 'Forward', 958);
}

plotHoriz({name:'chart-g', top:845, label:'(g)',
  boxRect:{x:237,y:1046,width:107,height:38,fill:'#fff',stroke:'#000','stroke-width':1.5},
  boxText:[241,1075,'Light off'],
  series:[[gX,gBlack,COLORS[0],'series-100'],[gBlueX,gBlue,COLORS[1],'series-200'],[gOrangeX,gOrange,COLORS[2],'series-300'],[gRedX,gRed,COLORS[3],'series-400']]});
plotHoriz({name:'chart-i', top:1225, label:'(i)',
  boxRect:{x:290,y:1427,width:162,height:38,fill:'#fff',stroke:'#000','stroke-width':1.5},
  boxText:[295,1456,'4 lamps, 5 V'],
  series:[[iX,iBlack,COLORS[0],'series-100'],[iBlueX,iBlue,COLORS[1],'series-200'],[iOrangeX,iOrange,COLORS[2],'series-300'],[iRedX,iRed,COLORS[3],'series-400']]});
plotVert({name:'chart-h', top:845, label:'(h)',
  boxRect:{x:806,y:1046,width:106,height:38,fill:'#fff',stroke:'#000','stroke-width':1.5},
  boxText:[[810,1075,'Light off']],
  series:[[hBlack,hY,COLORS[0],'series-100'],[hBlue,hBlueY,COLORS[1],'series-200'],[hOrange,hOrangeY,COLORS[2],'series-300'],[hRed,hRedY,COLORS[3],'series-400']]});
plotVert({name:'chart-j', top:1225, label:'(j)',
  boxRect:{x:999,y:1397,width:111,height:73,fill:'#fff',stroke:'#000','stroke-width':1.5},
  boxText:[[1003,1428,'4 lamps,'],[1003,1461,'5 V']],
  series:[[jBlackV,jBlackY,COLORS[0],'series-100'],[jBlueV,jBlueY,COLORS[1],'series-200'],[jOrangeV,jOrangeY,COLORS[2],'series-300'],[jRedV,jRedY,COLORS[3],'series-400']]});
</script>
</body></html>
